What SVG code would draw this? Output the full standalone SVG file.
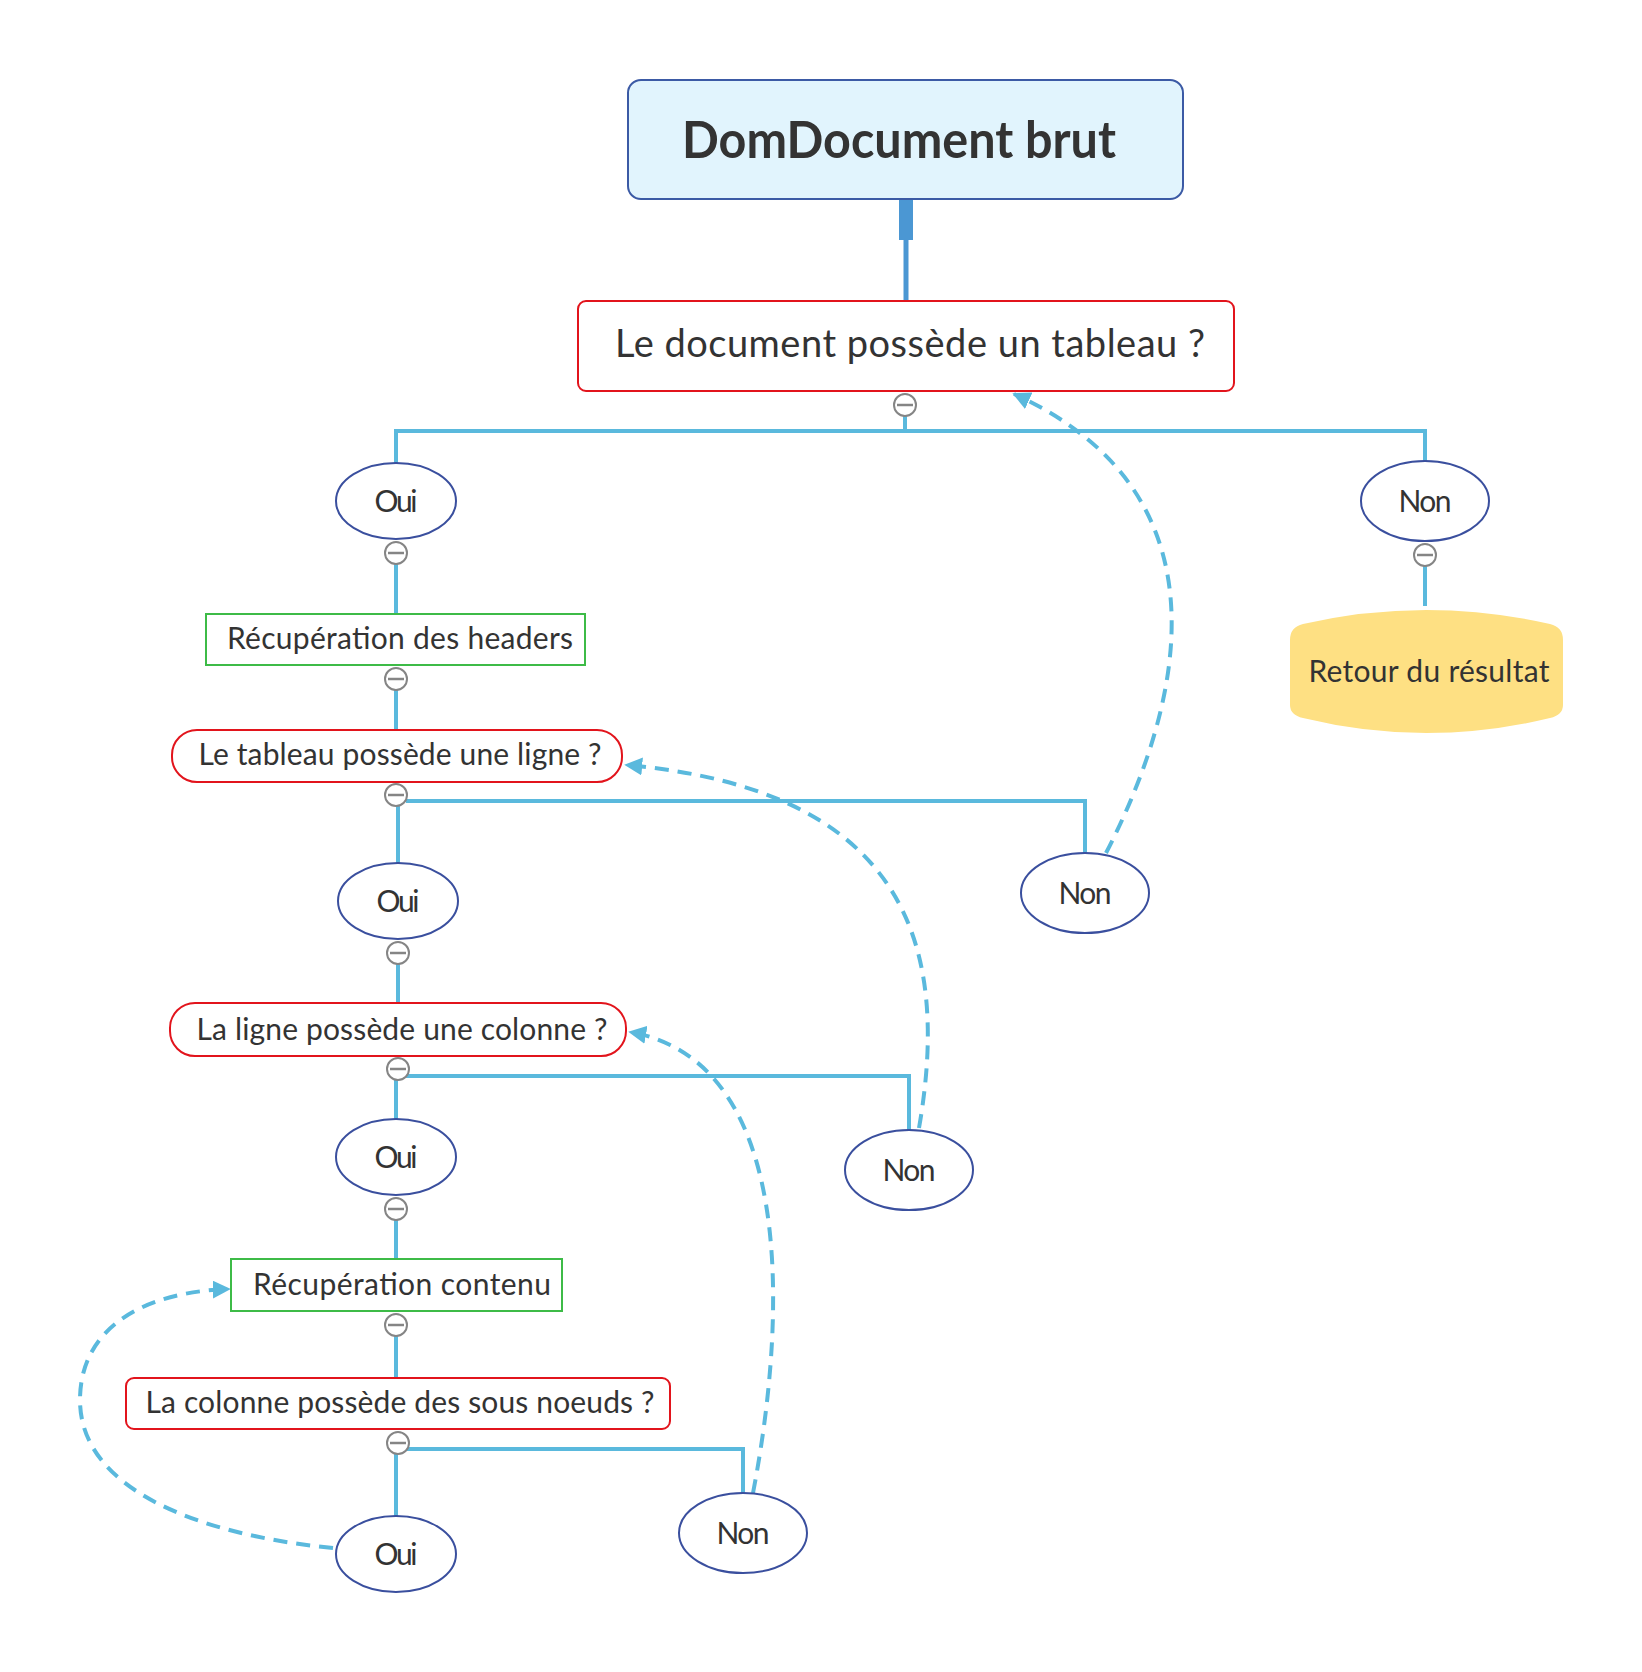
<svg xmlns="http://www.w3.org/2000/svg" width="1642" height="1672" viewBox="0 0 1642 1672">
<style>
text{font-family:Lato,"Noto Sans","Liberation Sans",sans-serif;fill:#333333;text-anchor:middle}
.t{font-size:30px}
.q{stroke:#e2141c;stroke-width:2;fill:#ffffff}
.g{stroke:#3dbb47;stroke-width:2;fill:#ffffff}
.e{stroke:#3a4f9e;stroke-width:2;fill:#ffffff}
.c{stroke:#5ab9dd;stroke-width:4;fill:none}
.d{stroke:#5ab9dd;stroke-width:4;fill:none;stroke-dasharray:14 9}
.k circle{fill:#ffffff;stroke:#858585;stroke-width:2}
.k path{stroke:#858585;stroke-width:2.5}
</style>
<defs>
<marker id="ar" viewBox="0 0 10 10" refX="9" refY="5" markerWidth="18" markerHeight="18" markerUnits="userSpaceOnUse" orient="auto">
<path d="M0,0 L10,5 L0,10 z" fill="#5ab9dd"/>
</marker>
</defs>
<rect width="1642" height="1672" fill="#ffffff"/>
<g id="connectors">
<rect x="899" y="199" width="14" height="41" fill="#4b97d3"/>
<path d="M906,240 V301" stroke="#4b97d3" stroke-width="5" fill="none"/>
<path class="c" d="M905,416 V431 M396,465 V431 H1425 V461"/>
<path class="c" d="M396,564 V614"/>
<path class="c" d="M1425,566 V606"/>
<path class="c" d="M396,690 V730"/>
<path class="c" d="M398,806 V864 M406,801 H1085 V854"/>
<path class="c" d="M398,964 V1003"/>
<path class="c" d="M396,1080 V1119 M406,1076 H909 V1130"/>
<path class="c" d="M396,1220 V1259"/>
<path class="c" d="M396,1336 V1378"/>
<path class="c" d="M396,1454 V1516 M406,1449 H743 V1494"/>
<path class="d" d="M1106,853 C1190,690 1225,490 1014,394" marker-end="url(#ar)"/>
<path class="d" d="M919,1128 C950,950 910,790 626,765" marker-end="url(#ar)"/>
<path class="d" d="M753,1493 C790,1300 790,1060 630,1032" marker-end="url(#ar)"/>
<path class="d" d="M333,1548 C200,1535 80,1490 80,1400 C80,1330 140,1292 229,1289" marker-end="url(#ar)"/>
</g>
<g id="root">
<rect x="628" y="80" width="555" height="119" rx="13" fill="#e1f4fd" stroke="#3b5aa5" stroke-width="2"/>
<text x="899" y="158" font-size="52" font-weight="bold" textLength="434" lengthAdjust="spacingAndGlyphs">DomDocument brut</text>
</g>
<g id="q1">
<rect class="q" x="578" y="301" width="656" height="90" rx="8"/>
<text x="910" y="357" font-size="38" textLength="590" lengthAdjust="spacing">Le document possède un tableau ?</text>
</g>
<g id="oui1">
<ellipse class="e" cx="396" cy="501" rx="60" ry="38"/>
<text class="t" x="396" y="512" textLength="43">Oui</text>
</g>
<g id="non1">
<ellipse class="e" cx="1425" cy="501" rx="64" ry="40"/>
<text class="t" x="1425" y="512" textLength="53">Non</text>
</g>
<g id="retour">
<path d="M1290,640 Q1290,627 1303,624 Q1426,596 1550,624 Q1563,627 1563,640 V705 Q1563,715 1550,718 Q1426,748 1303,718 Q1290,715 1290,705 Z" fill="#fee083"/>
<text class="t" x="1429" y="682" textLength="241" lengthAdjust="spacing">Retour du résultat</text>
</g>
<g id="headers">
<rect class="g" x="206" y="614" width="379" height="51"/>
<text class="t" x="400" y="649" textLength="346" lengthAdjust="spacing">Récupération des headers</text>
</g>
<g id="q2">
<rect class="q" x="172" y="730" width="450" height="52" rx="25"/>
<text class="t" x="400" y="765" textLength="403" lengthAdjust="spacing">Le tableau possède une ligne ?</text>
</g>
<g id="oui2">
<ellipse class="e" cx="398" cy="901" rx="60" ry="38"/>
<text class="t" x="398" y="912" textLength="43">Oui</text>
</g>
<g id="non2">
<ellipse class="e" cx="1085" cy="893" rx="64" ry="40"/>
<text class="t" x="1085" y="904" textLength="53">Non</text>
</g>
<g id="q3">
<rect class="q" x="170" y="1003" width="456" height="53" rx="25"/>
<text class="t" x="402" y="1040" textLength="411" lengthAdjust="spacing">La ligne possède une colonne ?</text>
</g>
<g id="oui3">
<ellipse class="e" cx="396" cy="1157" rx="60" ry="38"/>
<text class="t" x="396" y="1168" textLength="43">Oui</text>
</g>
<g id="non3">
<ellipse class="e" cx="909" cy="1170" rx="64" ry="40"/>
<text class="t" x="909" y="1181" textLength="53">Non</text>
</g>
<g id="contenu">
<rect class="g" x="231" y="1259" width="331" height="52"/>
<text class="t" x="402" y="1295" textLength="298" lengthAdjust="spacing">Récupération contenu</text>
</g>
<g id="q4">
<rect class="q" x="126" y="1378" width="544" height="51" rx="8"/>
<text class="t" x="400" y="1413" textLength="509" lengthAdjust="spacing">La colonne possède des sous noeuds ?</text>
</g>
<g id="oui4">
<ellipse class="e" cx="396" cy="1554" rx="60" ry="38"/>
<text class="t" x="396" y="1565" textLength="43">Oui</text>
</g>
<g id="non4">
<ellipse class="e" cx="743" cy="1533" rx="64" ry="40"/>
<text class="t" x="743" y="1544" textLength="53">Non</text>
</g>
<g id="toggles" class="k">
<circle cx="905" cy="405" r="11"/><path d="M897,405 H913"/>
<circle cx="396" cy="553" r="11"/><path d="M388,553 H404"/>
<circle cx="1425" cy="555" r="11"/><path d="M1417,555 H1433"/>
<circle cx="396" cy="679" r="11"/><path d="M388,679 H404"/>
<circle cx="396" cy="795" r="11"/><path d="M388,795 H404"/>
<circle cx="398" cy="953" r="11"/><path d="M390,953 H406"/>
<circle cx="398" cy="1069" r="11"/><path d="M390,1069 H406"/>
<circle cx="396" cy="1209" r="11"/><path d="M388,1209 H404"/>
<circle cx="396" cy="1325" r="11"/><path d="M388,1325 H404"/>
<circle cx="398" cy="1443" r="11"/><path d="M390,1443 H406"/>
</g>
</svg>
